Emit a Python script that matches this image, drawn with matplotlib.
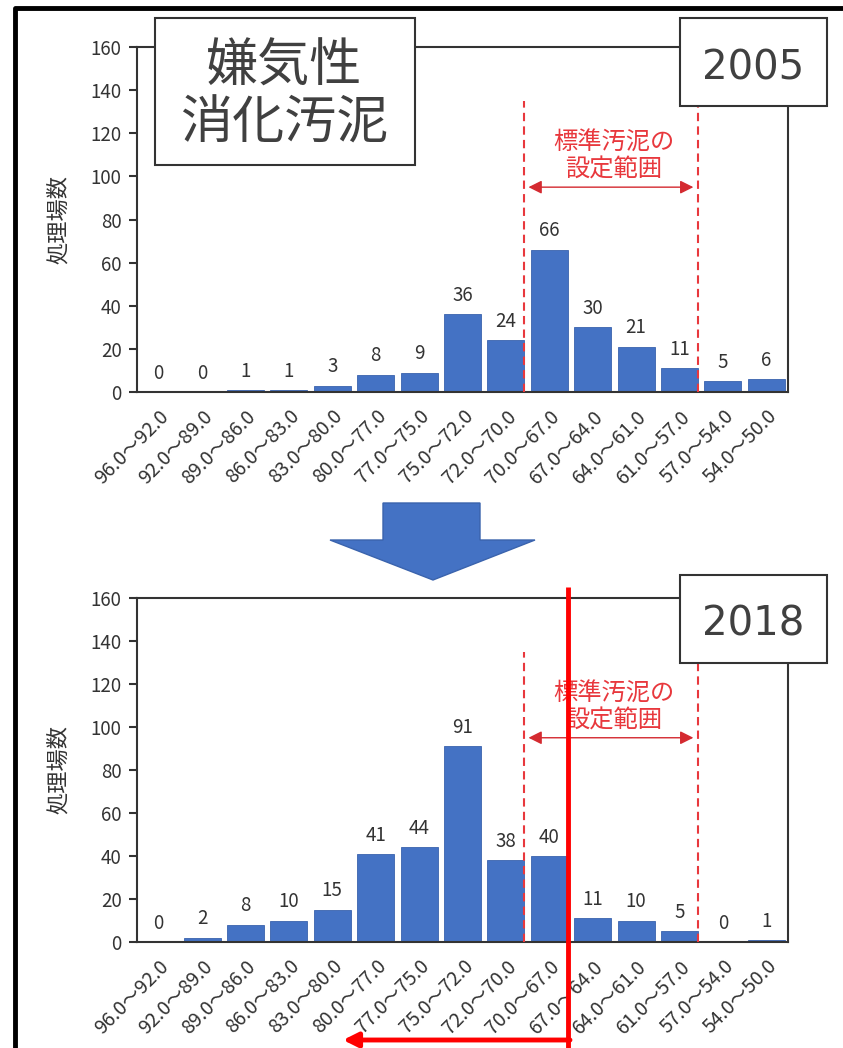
import matplotlib
matplotlib.use("Agg")
import matplotlib.pyplot as plt
from matplotlib.patches import Rectangle, Polygon, FancyArrowPatch
from matplotlib.lines import Line2D

plt.rcParams['font.family'] = ['Noto Sans CJK JP', 'DejaVu Sans']

# Moisture-content classes of the sludge (%) and plant counts per class
categories = ["96.0～92.0", "92.0～89.0", "89.0～86.0", "86.0～83.0", "83.0～80.0",
              "80.0～77.0", "77.0～75.0", "75.0～72.0", "72.0～70.0", "70.0～67.0",
              "67.0～64.0", "64.0～61.0", "61.0～57.0", "57.0～54.0", "54.0～50.0"]
counts_2005 = [0, 0, 1, 1, 3, 8, 9, 36, 24, 66, 30, 21, 11, 5, 6]
counts_2018 = [0, 2, 8, 10, 15, 41, 44, 91, 38, 40, 11, 10, 5, 0, 1]
years = ["2005", "2018"]
y_ticks = [0, 20, 40, 60, 80, 100, 120, 140, 160]
standard_range = (8.42, 12.42)   # class boundaries of the standard sludge range

W, H = 843, 1048
fig = plt.figure(figsize=(W / 100, H / 100), dpi=100)

BLUE = "#4472C4"
RED = "#E8383D"
GRID = "#333333"
TXT = "#333333"


def px(x, y):
    """pixel position (from top-left) -> figure fraction"""
    return x / W, 1 - y / H


def draw_panel(top_px, bottom_px, counts, year, box_top, box_bottom):
    l, b = px(137, bottom_px)
    r, t = px(788, top_px)
    ax = fig.add_axes([l, b, r - l, t - b])
    xs = list(range(len(categories)))
    ax.bar(xs, counts, width=0.85, color=BLUE, edgecolor="#3a63ad", linewidth=0.6, zorder=2)
    for x, v in zip(xs, counts):
        ax.annotate(str(v), (x, v), xytext=(0, 6), textcoords="offset points",
                    ha="center", va="bottom", fontsize=13.5, color=TXT)
    ax.set_xlim(-0.5, len(categories) - 0.5)
    ax.set_ylim(0, 160)
    ax.set_yticks(y_ticks)
    ax.set_yticklabels([str(v) for v in y_ticks], fontsize=13.5, color=TXT)
    ax.set_xticks(xs)
    ax.set_xticklabels(categories, rotation=45, ha="right", rotation_mode="anchor",
                       fontsize=14, color=TXT)
    ax.tick_params(axis="x", length=0, pad=10)
    ax.tick_params(axis="y", direction="out", length=6, width=1.5, color=GRID, pad=5)
    for s in ax.spines.values():
        s.set_color(GRID)
        s.set_linewidth(1.5)
    ax.set_ylabel("処理場数", fontsize=16, color=TXT, labelpad=15)

    # standard-sludge range: dashed boundaries, double arrow and caption
    for xb in standard_range:
        ax.plot([xb, xb], [0, 135], ls=(0, (4, 2.5)), color=RED, lw=1.5, zorder=3)
    ax.annotate("", xy=(standard_range[0] + 0.1, 95), xytext=(standard_range[1] - 0.1, 95),
                arrowprops=dict(arrowstyle="<|-|>", color="#D42A30", lw=1.0,
                                mutation_scale=20, shrinkA=0, shrinkB=0))
    ax.text(sum(standard_range) / 2 + 0.07, 109.5, "標準汚泥の\n設定範囲", ha="center",
            va="center", fontsize=17.5, color=RED, linespacing=1.1)

    # year box
    x0, y0 = px(680, box_top)
    x1, y1 = px(827, box_bottom)
    fig.add_artist(Rectangle((x0, y1), x1 - x0, y0 - y1, transform=fig.transFigure,
                             facecolor="white", edgecolor=GRID, lw=1.5, zorder=5))
    tx, ty = px(753, (box_top + box_bottom) / 2 + 6)
    fig.text(tx, ty, year, ha="center", va="center", fontsize=29, color="#404040",
             family="DejaVu Sans", zorder=6)
    return ax


ax_top = draw_panel(47, 392, counts_2005, years[0], 18, 106)
ax_bot = draw_panel(598, 942, counts_2018, years[1], 575, 663)

# sludge-type title box
x0, y0 = px(155, 18)
x1, y1 = px(415, 165)
fig.add_artist(Rectangle((x0, y1), x1 - x0, y0 - y1, transform=fig.transFigure,
                         facecolor="white", edgecolor=GRID, lw=1.5, zorder=5))
tx, ty = px(284, 95)
fig.text(tx, ty, "嫌気性\n消化汚泥", ha="center", va="center", fontsize=37.5,
         color="#404040", linespacing=1.08, zorder=6)

# block arrow between the panels
arrow_pts = [(383, 503), (480, 503), (480, 540), (535, 540), (433, 580), (330, 540), (383, 540)]
fig.add_artist(Polygon([px(x, y) for x, y in arrow_pts], closed=True, transform=fig.transFigure,
                       facecolor=BLUE, edgecolor="#3a63ad", lw=1.0, zorder=4))

# red marker lines on the lower panel
vx0, vy0 = px(568, 587)
vx1, vy1 = px(568, 1048)
fig.add_artist(Line2D([vx0, vx1], [vy0, vy1], transform=fig.transFigure, color="#FF0000",
                      lw=3.5, zorder=7, solid_capstyle="butt"))
hx0, hy0 = px(570, 1040)
hx1, hy1 = px(343, 1040)
fig.add_artist(FancyArrowPatch((hx0, hy0), (hx1, hy1), transform=fig.transFigure,
                               arrowstyle="-|>", mutation_scale=22, color="#FF0000",
                               lw=3.5, shrinkA=0, shrinkB=0, zorder=7))

# outer frame (left and top edges)
fx0, fy0 = px(15, 1048)
fx1, fy1 = px(15, 8)
fx2, _ = px(843, 8)
fig.add_artist(Line2D([fx0, fx1, fx2], [fy0, fy1, fy1], transform=fig.transFigure,
                      color="black", lw=3.5, zorder=8))

fig.savefig("out.png", dpi=100, facecolor="white")
